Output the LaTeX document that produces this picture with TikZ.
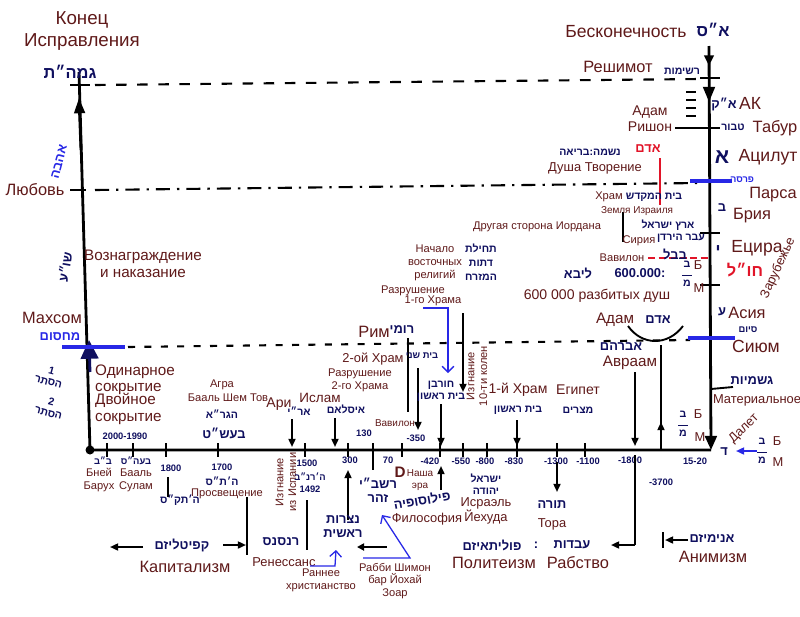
\documentclass[tikz,border=0pt]{standalone}
\usepackage{fontspec}
\setmainfont{Liberation Sans}
\newfontfamily\hebfont[Script=Hebrew]{Liberation Sans}
\TeXXeTstate=1
\usetikzlibrary{arrows.meta}
\definecolor{lblcol}{RGB}{95,25,25}
\definecolor{inkcol}{RGB}{15,15,95}
\definecolor{blueln}{RGB}{40,40,230}
\definecolor{redink}{RGB}{225,20,40}
\newcommand{\hebtxt}[1]{{\hebfont\beginR #1\endR}}
\newcommand{\fsz}[2]{\fontsize{#1}{#2}\selectfont}
\newcommand{\frbm}{\hebtxt{ב}\\[-3pt]\rule{8pt}{1.2pt}\\[-1pt]\hebtxt{מ}}
\tikzset{
  lbl/.style={text=lblcol, inner sep=0pt, align=center, font=\fsz{11}{12.5}},
  lblhuge/.style={lbl, font=\fsz{16}{19}},
  lblbig/.style={lbl, font=\fsz{14}{16}},
  lblmid/.style={lbl, font=\fsz{12}{14}},
  lblsmall/.style={lbl, font=\fsz{9.5}{11}},
  lbltiny/.style={lbl, font=\fsz{8.5}{10}},
  ink/.style={text=inkcol, inner sep=0pt, align=center, font=\hebfont\bfseries\fsz{9}{10}},
  inkmid/.style={ink, font=\hebfont\bfseries\fsz{11}{12}},
  inkbig/.style={ink, font=\hebfont\bfseries\fsz{14}{15}},
  num/.style={text=inkcol, inner sep=0pt, font=\bfseries\fsz{8}{9}},
  mainln/.style={line width=2.4pt},
  tick/.style={line width=1.4pt},
  bar/.style={line width=2.6pt, blueln},
  guide/.style={line width=1.8pt, dash pattern=on 9pt off 9pt},
  ptr/.style={line width=1.6pt, -{Triangle[length=7pt,width=6pt]}},
  blueptr/.style={line width=1.1pt, blueln, -{Straight Barb[length=5pt]}},
}
\begin{document}
\begin{tikzpicture}[x=0.3mm,y=-0.3mm]
\useasboundingbox (0,0) rectangle (800,616);

% frame: left line, time axis, right line
\coordinate (gmar) at (79,72);
\coordinate (origin) at (90,450);
\coordinate (einsof) at (709,46);
\coordinate (axisend) at (711,450);
\draw[mainln] (gmar) -- (origin) -- (axisend);
\draw[mainln, -{Triangle[length=12pt,width=10pt]}] (einsof) -- (axisend);
\fill (origin) circle (4.5);
\draw[mainln, -{Triangle[length=13pt,width=9pt]}] (81,150) -- (79,98);
\draw[mainln, inkcol, -{Triangle[length=16pt,width=15pt]}] (90,372) -- (89,340);
\draw[mainln, -{Triangle[length=9pt,width=8pt]}] (709,50) -- (709,66);
\draw[mainln, -{Triangle[length=13pt,width=10pt]}] (709,78) -- (709,102);

% horizontal guides
\draw[guide] (95,85) -- (700,79);
\draw[guide, dash pattern=on 12pt off 6pt on 2pt off 6pt] (95,190) -- (700,183);
\draw[guide, dash pattern=on 6pt off 8pt] (128,347) -- (690,340);
\draw[line width=1.6pt, redink, dash pattern=on 6pt off 3pt] (648,258) -- (709,258);

% bars on the two lines
\draw[tick] (70,85) -- (90,85);
\draw[tick] (70,190) -- (86,190);
\draw[bar] (62,347) -- (125,347);
\draw[tick] (700,78) -- (720,78);
\draw[tick] (675,128) -- (720,128);
\draw[bar] (690,181) -- (732,181);
\draw[tick] (700,233) -- (720,233);
\draw[tick] (700,285) -- (720,285);
\draw[bar] (688,338) -- (735,338);
\foreach \ly in {92,100,108,116}
  \draw[tick] (686,\ly) -- (696,\ly);
\draw[redink, line width=1.4pt] (660,158) -- (660,205);
\draw[line width=1.4pt] (623,212) -- (623,242);

% ticks on the time axis
\foreach \tx in {107,133,166,218,305,348,373,402,440,463,487,517,557,585}
  \draw[tick] (\tx,443) -- (\tx,457);

% left side
\node[lblhuge] (endfix) at (82,31) {Конец\\Исправления};
\node[inkbig] (hgmar) at (70,72) {\hebtxt{גמה״ת}};
\node[lblbig] (love) at (35,190) {Любовь};
\node[inkmid, text=blueln, rotate=75] (hlove) at (59,162) {\hebtxt{אהבה}};
\node[lbl, font=\fsz{13}{15}] (reward) at (143,264) {Вознаграждение\\и наказание};
\node[inkmid, rotate=80] (hreward) at (65,267) {\hebtxt{שו״ע}};
\node[lblbig] (mahsom) at (52,318) {Махсом};
\node[inkmid, text=blueln] (hmahsom) at (60,337) {\hebtxt{מחסום}};
\node[lbl, font=\fsz{13}{14}, align=left, anchor=west] (single) at (95,380) {Одинарное\\сокрытие};
\node[lbl, font=\fsz{13}{14}, align=left, anchor=west] (double) at (95,409) {Двойное\\сокрытие};
\node[ink, rotate=-15] (hsingle) at (50,376) {1\\\hebtxt{הסתר}};
\node[ink, rotate=-15] (hdouble) at (50,407) {2\\\hebtxt{הסתר}};

% right column: worlds
\node[lblhuge, font=\fsz{15}{17}] (einsoftxt) at (626,32) {Бесконечность};
\node[inkbig] (heinsof) at (713,30) {\hebtxt{א״ס}};
\node[lblbig] (reshimot) at (618,67) {Решимот};
\node[ink] (hreshimot) at (682,71) {\hebtxt{רשימות}};
\node[lblhuge, font=\fsz{15}{17}] (ak) at (750,103) {АК};
\node[inkmid] (hak) at (724,104) {\hebtxt{א״ק}};
\node[lbl, font=\fsz{12}{14}] (adamr) at (650,119) {Адам\\Ришон};
\node[lblbig] (tabur) at (775,128) {Табур};
\node[ink] (htabur) at (733,127) {\hebtxt{טבור}};
\node[lblhuge, font=\fsz{15}{17}] (atzilut) at (768,157) {Ацилут};
\node[inkbig, font=\hebfont\bfseries\fsz{18}{18}] (hatzilut) at (722,157) {\hebtxt{א}};
\node[ink] (hsoul) at (590,152) {\hebtxt{נשמה:בריאה}};
\node[inkmid, text=redink] (hadamred) at (648,149) {\hebtxt{אדם}};
\node[lbl] (soul) at (595,168) {Душа Творение};
\node[lblbig] (parsa) at (773,195) {Парса};
\node[ink, text=blueln, font=\hebfont\bfseries\fsz{8}{9}] (hparsa) at (742,180) {\hebtxt{פרסה}};
\node[lblsmall] (temple) at (609,197) {Храм};
\node[ink] (htemple) at (654,197) {\hebtxt{בית המקדש}};
\node[lblbig] (beria) at (752,216) {Брия};
\node[inkmid] (hberia) at (722,208) {\hebtxt{ב}};
\node[lbltiny] (land) at (637,211) {Земля Израиля};
\node[ink] (hland) at (668,225) {\hebtxt{ארץ ישראל}};
\node[lblsmall] (jordan) at (537,227) {Другая сторона Иордана};
\node[ink] (hjordan) at (681,238) {\hebtxt{עבר הירדן}};
\node[lblsmall] (syria) at (639,241) {Сирия};
\node[lblhuge, font=\fsz{15}{17}] (yetzira) at (757,248) {Ецира};
\node[inkbig] (hyetzira) at (718,251) {\hebtxt{י}};
\node[lblsmall] (babel) at (622,258) {Вавилон};
\node[inkmid] (hbabel) at (675,254) {\hebtxt{בבל}};
\node[inkmid] (hshards) at (578,273) {\hebtxt{ליבא}};
\node[num, font=\bfseries\fsz{11}{12}] (nshards) at (640,273) {600.000:};
\node[ink] (frac1) at (687,274) {\frbm};
\node[lbl] (b1) at (698,265) {Б};
\node[lbl] (m1) at (699,288) {М};
\node[lbl, font=\fsz{12}{14}] (shards) at (597,296) {600 000 разбитых душ};
\node[lbl, rotate=65] (abroad) at (778,268) {Зарубежье};
\node[inkbig, text=redink] (habroad) at (745,270) {\hebtxt{חו״ל}};
\node[lblbig] (assia) at (747,313) {Асия};
\node[inkmid] (hassia) at (722,312) {\hebtxt{ע}};
\node[lbl, font=\fsz{13}{15}] (adam) at (615,320) {Адам};
\node[inkmid] (hadam) at (658,320) {\hebtxt{אדם}};
\draw[line width=1.6pt] (628,326) .. controls (642,346) and (668,346) .. (683,326);
\node[ink, font=\hebfont\bfseries\fsz{8}{9}] (hsiyum) at (748,330) {\hebtxt{סיום}};
\node[lblhuge, font=\fsz{15}{17}] (siyum) at (756,346) {Сиюм};
\node[inkmid] (havraham) at (621,347) {\hebtxt{אברהם}};
\node[lbl, font=\fsz{13}{15}] (avraham) at (630,363) {Авраам};
\node[inkmid] (hmaterial) at (752,381) {\hebtxt{גשמיות}};
\draw[line width=1.6pt] (711,389) -- (733,387);
\node[lbl] (material) at (757,400) {Материальное};
\node[ink] (frac2) at (683,424) {\frbm};
\node[lbl] (b2) at (698,414) {Б};
\node[lbl] (m2) at (700,437) {М};
\node[lbl, rotate=45] (dalet) at (744,429) {Далет};
\node[inkmid] (hdalet) at (724,452) {\hebtxt{ד}};
\node[ink] (frac3) at (762,451) {\frbm};
\node[lbl] (b3) at (777,441) {Б};
\node[lbl] (m3) at (778,462) {М};
\draw[ptr, blueln] (frac3.west) -- (736,451);

% Abraham and Adam lines
\draw[ptr] (635,372) -- (635,446);
\draw[ptr] (661,450) -- (661,422);
\draw[mainln] (661,345) -- (661,425);
\node[num] (n1800) at (630,460) {-1800};
\node[num] (n1520) at (695,461) {15-20};
\node[num] (n3700) at (661,482) {-3700};
\draw[mainln] (635,455) -- (635,545);
\draw[ptr] (635,545) -- (611,545);

% top of the axis: events
\node[lblsmall] (agra) at (222,385) {Агра};
\node[lblsmall] (besht) at (228,398) {Бааль Шем Тов};
\node[ink] (hagra) at (222,414) {\hebtxt{הגר״א}};
\node[inkmid] (hbesht) at (224,433) {\hebtxt{בעש״ט}};
\node[lblmid] (ari) at (279,404) {Ари};
\node[ink] (hari) at (299,411) {\hebtxt{אר״י}};
\draw[ptr] (292,419) -- (292,447);
\node[lbl, font=\fsz{11.5}{13}] (islam) at (320,398) {Ислам};
\node[ink] (hislam) at (346,409) {\hebtxt{איסלאם}};
\draw[ptr] (335,418) -- (335,447);
\node[lblbig] (rome) at (374,332) {Рим};
\node[inkmid] (hrome) at (402,330) {\hebtxt{רומי}};
\draw[mainln] (408,338) -- (408,412);
\node[lbl] (temple2) at (373,359) {2-ой Храм};
\node[ink, font=\hebfont\bfseries\fsz{8}{9}] (htemple2) at (422,356) {\hebtxt{בית שני}};
\node[lblsmall] (ruin2) at (360,380) {Разрушение\\2-го Храма};
\draw[ptr] (418,368) -- (418,430);
\node[lbltiny] (babel2) at (395,423) {Вавилон};
\node[num] (n350) at (416,438) {-350};
\node[lblsmall] (east) at (435,263) {Начало\\восточных\\религий};
\node[ink, font=\hebfont\bfseries\fsz{9}{12}] (heast) at (481,262) {\hebtxt{תחילת}\\\hebtxt{דתות}\\\hebtxt{המזרח}};
\node[lblsmall] (ruin1a) at (413,291) {Разрушение};
\node[lblsmall] (ruin1b) at (433,301) {1-го Храма};
\draw[blueptr] (423,308) -- (448,308) -- (448,373);
\node[ink] (hruin1) at (441,391) {\hebtxt{חורבן}\\\hebtxt{בית ראשון}};
\draw[ptr] (441,404) -- (441,446);
\draw[ptr] (463,313) -- (463,392);
\node[lblsmall, rotate=90] (exile10) at (477,376) {Изгнание\\10-ти колен};
\node[lbl, font=\fsz{12}{14}] (temple1) at (518,390) {1-й Храм};
\node[ink] (htemple1) at (518,410) {\hebtxt{בית ראשון}};
\draw[ptr] (517,420) -- (517,446);
\node[lbl, font=\fsz{12}{14}] (egypt) at (578,390) {Египет};
\node[ink] (hegypt) at (578,410) {\hebtxt{מצרים}};
\node[num] (n2000) at (125,436) {2000-1990};
\node[num] (n130) at (364,433) {130};

% below the axis
\node[ink, font=\hebfont\bfseries\fsz{8}{9}] (hbb) at (103,461) {\hebtxt{ב״ב}};
\node[ink, font=\hebfont\bfseries\fsz{8}{9}] (hbaal) at (136,461) {\hebtxt{בעה״ס}};
\node[lblsmall] (bb) at (99,480) {Бней\\Барух};
\node[lblsmall] (baal) at (136,480) {Бааль\\Сулам};
\node[num] (n1800b) at (171,468) {1800};
\draw[mainln] (168,477) -- (168,497);
\node[ink] (h1800) at (180,500) {\hebtxt{ה׳תק״ס}};
\node[num] (n1700) at (222,467) {1700};
\node[ink] (h1700) at (222,481) {\hebtxt{ה׳ת״ס}};
\node[lblsmall] (enlight) at (227,494) {Просвещение};
\node[lblsmall, rotate=90] (exilesp) at (286,482) {Изгнание\\из Испании};
\node[num] (n1500) at (307,463) {1500};
\node[ink, font=\hebfont\bfseries\fsz{8}{9}] (h1500) at (310,477) {\hebtxt{ה׳רנ״ב}};
\node[num] (n1492) at (310,489) {1492};
\node[num] (n300) at (350,460) {300};
\draw[ptr] (348,520) -- (348,470);
\node[num] (n70) at (388,460) {70};
\draw[mainln] (373,443) -- (373,470);
\node[inkmid] (hrashbi) at (378,490) {\hebtxt{רשב״י}\\\hebtxt{זהר}};
\node[inkmid] (hchrist) at (343,527) {\hebtxt{נצרות}\\\hebtxt{ראשית}};
\draw[line width=2pt, {Triangle[length=6pt,width=6pt]}-] (357,547) -- (387,547);
\node[lbl, font=\fsz{13}{14}] (d) at (400,472) {\textbf{D}};
\node[lbltiny] (era) at (420,480) {Наша\\эра};
\node[num] (n420) at (430,461) {-420};
\node[num] (n550) at (461,461) {-550};
\node[num] (n800) at (485,461) {-800};
\node[num] (n830) at (514,461) {-830};
\node[num] (n1300) at (556,461) {-1300};
\node[num] (n1100) at (588,461) {-1100};
\node[inkmid, rotate=10] (hphilo) at (422,500) {\hebtxt{פילוסופיה}};
\draw[ptr] (441,490) -- (441,466);
\node[lbl] (philo) at (427,519) {Философия};
\node[ink] (hisrael) at (486,484) {\hebtxt{ישראל}\\\hebtxt{יהודה}};
\node[lbl] (israel) at (486,511) {Исраэль\\Йехуда};
\node[inkmid] (htora) at (552,505) {\hebtxt{תורה}};
\node[lbl] (tora) at (552,524) {Тора};
\draw[ptr] (557,462) -- (557,492);

% bottom row: epochs
\node[inkmid] (hcapital) at (182,545) {\hebtxt{קפיטליזם}};
\draw[ptr] (143,547) -- (110,547);
\draw[mainln] (247,497) -- (247,555);
\draw[ptr] (223,545) -- (246,545);
\node[lblbig] (capital) at (185,567) {Капитализм};
\node[inkmid] (hrenes) at (281,542) {\hebtxt{רנסנס}};
\draw[mainln] (307,500) -- (307,550);
\node[lbl] (renes) at (284,562) {Ренессанс};
\draw[blueptr] (310,566) -- (335,566) -- (336,550);
\node[lblsmall] (christ) at (321,580) {Раннее\\христианство};
\draw[blueptr] (363,558) -- (410,558) -- (382,515);
\node[lblsmall] (rashbi) at (395,581) {Рабби Шимон\\бар Йохай\\Зоар};
\node[inkmid] (hpoly) at (492,545) {\hebtxt{פוליתאיזם}};
\node[inkmid] (colon) at (536,545) {:};
\node[inkmid] (hslave) at (572,545) {\hebtxt{עבדות}};
\node[lblbig] (poly) at (494,563) {Политеизм};
\node[lblbig] (slavery) at (578,563) {Рабство};
\draw[tick] (663,532) -- (663,548);
\draw[ptr] (688,540) -- (665,540);
\node[inkmid] (hanim) at (712,538) {\hebtxt{אנימיזם}};
\node[lblbig] (anim) at (713,557) {Анимизм};
\end{tikzpicture}
\end{document}
